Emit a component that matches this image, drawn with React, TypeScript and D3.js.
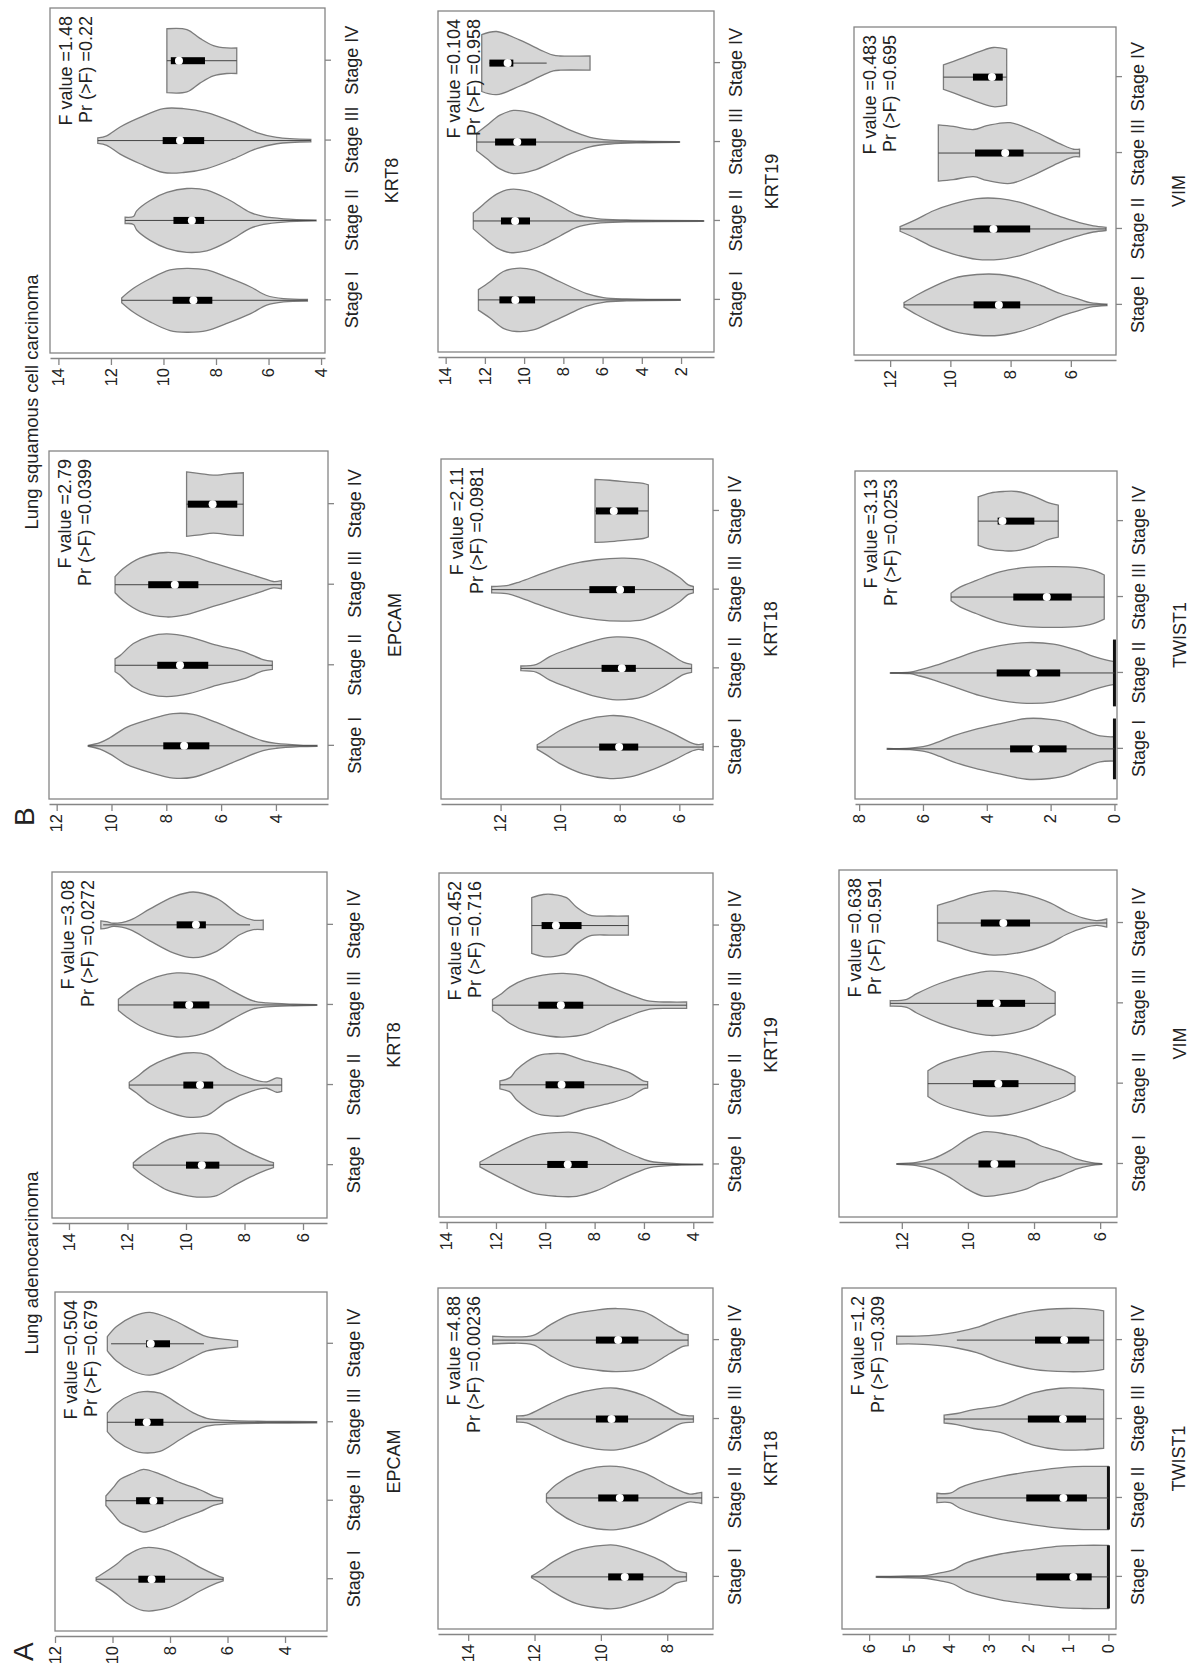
import React, { useEffect, useRef } from 'react';
import * as d3 from 'd3';

// Violin panels, drawn in landscape and then turned a quarter turn like the scan.
const W = 1191;
const H = 1665;
const FONT = '"Liberation Sans", Arial, Helvetica, sans-serif';

const stages = ['Stage I', 'Stage II', 'Stage III', 'Stage IV'];

// each violin outline: [expression value, half width in category units]
// box: [q1, median, q3], whisker: [low, high]

// ---- A: lung adenocarcinoma ----
const luadEpcamShape = [
  [[10.57, 0.02], [10.43, 0.05], [9.86, 0.19], [9.51, 0.3], [8.93, 0.4], [8.12, 0.37], [7.42, 0.25], [6.96, 0.15], [6.38, 0.05], [6.15, 0.02]],
  [[10.23, 0.06], [9.97, 0.17], [9.74, 0.27], [9.28, 0.35], [8.93, 0.4], [8.35, 0.34], [7.65, 0.23], [6.96, 0.14], [6.49, 0.06], [6.17, 0.03]],
  [[10.18, 0.12], [9.86, 0.24], [9.28, 0.36], [8.93, 0.39], [8.35, 0.37], [7.65, 0.22], [7.19, 0.12], [6.72, 0.05], [5.8, 0.02], [4.64, 0.012], [2.9, 0.008]],
  [[10.18, 0.09], [9.86, 0.22], [9.28, 0.35], [8.7, 0.4], [7.88, 0.3], [7.19, 0.17], [6.72, 0.09], [5.91, 0.05], [5.65, 0.04]],
];
const luadEpcamBox = [[8.17, 8.64, 9.1], [8.23, 8.58, 9.18], [8.23, 8.81, 9.22], [8.0, 8.67, 8.83]];
const luadEpcamWhisker = [[6.15, 10.57], [6.17, 10.23], [2.9, 10.18], [6.82, 10.05]];
const luadEpcamTicks = [4, 6, 8, 10, 12];
const luadEpcamRange = [2.54, 12.0];
const luadEpcamStats = ['F value =0.504', 'Pr (>F) =0.679'];

const luadKrt8Shape = [
  [[11.8, 0.03], [11.57, 0.1], [11.12, 0.21], [10.66, 0.31], [10.09, 0.37], [9.52, 0.4], [8.95, 0.38], [8.38, 0.26], [7.81, 0.15], [7.24, 0.06], [7.01, 0.03]],
  [[11.94, 0.035], [11.69, 0.1], [11.23, 0.23], [10.66, 0.33], [9.98, 0.4], [9.29, 0.38], [8.61, 0.21], [7.7, 0.07], [7.24, 0.04], [6.9, 0.09], [6.73, 0.08]],
  [[12.31, 0.07], [12.03, 0.15], [11.57, 0.26], [11.0, 0.35], [10.32, 0.4], [9.64, 0.38], [9.07, 0.31], [8.38, 0.17], [7.7, 0.05], [7.24, 0.025], [6.33, 0.01], [5.53, 0.005]],
  [[12.91, 0.05], [12.71, 0.04], [12.48, 0.02], [11.91, 0.06], [11.23, 0.2], [10.43, 0.35], [9.75, 0.41], [8.95, 0.33], [8.15, 0.12], [7.7, 0.06], [7.36, 0.06]],
];
const luadKrt8Box = [[8.86, 9.46, 10.0], [9.07, 9.52, 10.09], [9.2, 9.89, 10.43], [9.32, 9.66, 10.32]];
const luadKrt8Whisker = [[7.01, 11.8], [6.73, 11.94], [5.53, 12.31], [7.81, 12.83]];
const luadKrt8Ticks = [6, 8, 10, 12, 14];
const luadKrt8Range = [5.18, 14.58];
const luadKrt8Stats = ['F value =3.08', 'Pr (>F) =0.0272'];

const luadKrt18Shape = [
  [[12.09, 0.01], [11.74, 0.1], [11.44, 0.19], [10.73, 0.34], [9.93, 0.4], [9.53, 0.4], [8.72, 0.3], [8.12, 0.19], [7.72, 0.08], [7.42, 0.05]],
  [[11.64, 0.05], [11.34, 0.17], [10.73, 0.32], [10.13, 0.39], [9.53, 0.4], [8.72, 0.32], [7.92, 0.15], [7.32, 0.05], [7.11, 0.06], [6.96, 0.07]],
  [[12.54, 0.04], [12.24, 0.05], [11.54, 0.19], [10.93, 0.3], [10.13, 0.38], [9.53, 0.39], [8.72, 0.3], [8.02, 0.15], [7.62, 0.06], [7.21, 0.04]],
  [[13.26, 0.05], [12.74, 0.04], [12.04, 0.06], [11.54, 0.19], [10.93, 0.32], [10.13, 0.38], [9.53, 0.4], [8.72, 0.36], [7.92, 0.17], [7.52, 0.08], [7.37, 0.07]],
];
const luadKrt18Box = [[8.72, 9.28, 9.78], [8.87, 9.43, 10.08], [9.18, 9.68, 10.15], [8.87, 9.48, 10.15]];
const luadKrt18Whisker = [[7.42, 12.09], [6.96, 11.64], [7.21, 12.54], [7.37, 13.26]];
const luadKrt18Ticks = [8, 10, 12, 14];
const luadKrt18Range = [6.62, 14.91];
const luadKrt18Stats = ['F value =4.88', 'Pr (>F) =0.00236'];

const luadKrt19Shape = [
  [[12.65, 0.03], [12.24, 0.1], [11.43, 0.23], [10.49, 0.36], [9.54, 0.4], [8.73, 0.4], [7.92, 0.33], [7.11, 0.21], [6.3, 0.1], [5.76, 0.04], [4.67, 0.01], [3.62, 0.005]],
  [[11.84, 0.05], [11.43, 0.09], [11.16, 0.19], [10.35, 0.36], [9.81, 0.39], [9.27, 0.39], [8.46, 0.31], [7.38, 0.23], [6.57, 0.15], [6.03, 0.05], [5.85, 0.04]],
  [[12.14, 0.07], [11.84, 0.13], [11.43, 0.23], [10.76, 0.33], [9.81, 0.39], [9.27, 0.4], [8.32, 0.36], [7.38, 0.23], [6.57, 0.13], [5.76, 0.05], [4.95, 0.04], [4.27, 0.04]],
  [[10.55, 0.35], [10.08, 0.39], [9.68, 0.39], [9.14, 0.35], [8.73, 0.23], [8.19, 0.13], [7.38, 0.12], [6.63, 0.12]],
];
const luadKrt19Box = [[8.28, 9.09, 9.92], [8.42, 9.34, 9.99], [8.46, 9.37, 10.28], [8.53, 9.57, 10.15]];
const luadKrt19Whisker = [[3.62, 12.65], [5.85, 11.84], [4.27, 12.14], [6.63, 10.55]];
const luadKrt19Ticks = [4, 6, 8, 10, 12, 14];
const luadKrt19Range = [3.2, 14.31];
const luadKrt19Stats = ['F value =0.452', 'Pr (>F) =0.716'];

const luadTwistShape = [
  [[5.82, 0.005], [5.22, 0.01], [4.55, 0.02], [4.22, 0.05], [3.89, 0.09], [3.55, 0.18], [2.71, 0.29], [1.88, 0.35], [1.21, 0.39], [0.63, 0.4], [0.0, 0.4]],
  [[4.3, 0.06], [3.97, 0.06], [3.72, 0.13], [3.38, 0.19], [2.71, 0.27], [1.88, 0.34], [1.04, 0.39], [0.63, 0.4], [0.0, 0.4]],
  [[4.12, 0.05], [3.8, 0.07], [3.38, 0.12], [2.71, 0.17], [2.3, 0.25], [1.88, 0.33], [1.21, 0.39], [0.62, 0.39], [0.12, 0.37]],
  [[5.31, 0.05], [4.8, 0.05], [4.22, 0.07], [3.8, 0.1], [3.3, 0.16], [2.71, 0.27], [1.88, 0.37], [1.04, 0.4], [0.37, 0.39], [0.12, 0.37]],
];
const luadTwistBox = [[0.42, 0.88, 1.81], [0.54, 1.13, 2.06], [0.56, 1.14, 2.02], [0.48, 1.11, 1.84]];
const luadTwistWhisker = [[0, 5.82], [0, 4.3], [0.12, 4.12], [0.12, 3.8]];
const luadTwistZeroBar = [0.4, 0.4, 0, 0];
const luadTwistTicks = [0, 1, 2, 3, 4, 5, 6];
const luadTwistRange = [-0.19, 6.68];
const luadTwistStats = ['F value =1.2', 'Pr (>F) =0.309'];

const luadVimShape = [
  [[12.15, 0.005], [11.55, 0.02], [11.04, 0.07], [10.54, 0.17], [10.03, 0.31], [9.53, 0.4], [8.82, 0.37], [8.22, 0.31], [7.82, 0.23], [7.21, 0.15], [6.7, 0.06], [6.3, 0.02], [5.95, 0.005]],
  [[11.21, 0.16], [10.84, 0.25], [10.24, 0.33], [9.43, 0.4], [8.82, 0.39], [8.22, 0.33], [7.51, 0.23], [7.01, 0.15], [6.76, 0.09]],
  [[12.35, 0.035], [11.85, 0.05], [11.55, 0.12], [10.84, 0.25], [10.03, 0.35], [9.33, 0.4], [8.62, 0.37], [8.02, 0.3], [7.61, 0.2], [7.36, 0.14]],
  [[10.92, 0.22], [10.44, 0.28], [9.83, 0.36], [9.23, 0.4], [8.22, 0.35], [7.51, 0.25], [7.01, 0.14], [6.5, 0.06], [6.1, 0.03], [5.8, 0.05]],
];
const luadVimBox = [[8.57, 9.2, 9.68], [8.47, 9.08, 9.85], [8.27, 9.13, 9.73], [8.12, 8.93, 9.61]];
const luadVimWhisker = [[5.95, 12.15], [6.76, 11.21], [7.36, 12.35], [5.8, 10.92]];
const luadVimTicks = [6, 8, 10, 12];
const luadVimRange = [5.49, 13.9];
const luadVimStats = ['F value =0.638', 'Pr (>F) =0.591'];

// ---- B: lung squamous cell carcinoma ----
const luscEpcamShape = [
  [[10.85, 0.005], [10.42, 0.04], [10.06, 0.1], [9.45, 0.23], [8.6, 0.33], [7.75, 0.4], [7.02, 0.39], [6.17, 0.29], [5.32, 0.17], [4.47, 0.06], [3.98, 0.03], [3.13, 0.01], [2.5, 0.005]],
  [[9.87, 0.08], [9.69, 0.12], [9.2, 0.27], [8.6, 0.36], [7.99, 0.39], [7.14, 0.35], [6.17, 0.25], [5.19, 0.17], [4.47, 0.07], [4.13, 0.05]],
  [[9.87, 0.1], [9.57, 0.2], [8.96, 0.33], [7.99, 0.4], [7.26, 0.37], [6.29, 0.27], [5.32, 0.17], [4.47, 0.08], [4.1, 0.04], [3.8, 0.05]],
  [[7.26, 0.4], [6.77, 0.38], [6.29, 0.36], [5.68, 0.38], [5.19, 0.39]],
];
const luscEpcamBox = [[6.43, 7.35, 8.11], [6.47, 7.5, 8.33], [6.83, 7.69, 8.66], [5.41, 6.31, 7.22]];
const luscEpcamWhisker = [[2.5, 10.85], [4.13, 9.87], [3.8, 9.87], [5.19, 7.26]];
const luscEpcamTicks = [4, 6, 8, 10, 12];
const luscEpcamRange = [2.1, 12.28];
const luscEpcamStats = ['F value =2.79', 'Pr (>F) =0.0399'];

const luscKrt8Shape = [
  [[11.59, 0.03], [11.14, 0.15], [10.51, 0.27], [9.75, 0.38], [9.11, 0.4], [8.35, 0.38], [7.59, 0.29], [6.7, 0.17], [6.07, 0.06], [5.43, 0.02], [4.52, 0.01]],
  [[11.46, 0.04], [11.14, 0.05], [11.02, 0.12], [10.51, 0.25], [9.87, 0.35], [9.11, 0.4], [8.35, 0.38], [7.46, 0.25], [6.7, 0.1], [6.19, 0.05], [5.43, 0.02], [4.19, 0.005]],
  [[12.5, 0.035], [12.16, 0.06], [11.65, 0.17], [10.89, 0.29], [10.0, 0.4], [9.24, 0.4], [8.35, 0.35], [7.34, 0.23], [6.45, 0.1], [5.69, 0.04], [4.39, 0.015]],
  [[9.87, 0.4], [9.11, 0.39], [8.61, 0.28], [8.1, 0.19], [7.59, 0.16], [7.21, 0.16]],
];
const luscKrt8Box = [[8.14, 8.86, 9.65], [8.45, 8.92, 9.62], [8.45, 9.37, 10.03], [8.42, 9.41, 9.72]];
const luscKrt8Whisker = [[4.52, 11.59], [4.19, 11.46], [4.39, 12.5], [7.21, 9.87]];
const luscKrt8Ticks = [4, 6, 8, 10, 12, 14];
const luscKrt8Range = [3.85, 14.32];
const luscKrt8Stats = ['F value =1.48', 'Pr (>F) =0.22'];

const luscKrt18Shape = [
  [[10.77, 0.03], [10.46, 0.1], [10.01, 0.21], [9.23, 0.34], [8.33, 0.4], [7.66, 0.38], [6.99, 0.3], [6.2, 0.17], [5.64, 0.06], [5.36, 0.03], [5.2, 0.04]],
  [[11.32, 0.03], [10.79, 0.05], [10.35, 0.15], [9.67, 0.25], [8.78, 0.36], [8.11, 0.4], [7.21, 0.36], [6.43, 0.21], [5.87, 0.08], [5.59, 0.05]],
  [[12.3, 0.04], [11.8, 0.05], [11.35, 0.1], [10.57, 0.21], [9.67, 0.32], [8.78, 0.38], [7.88, 0.4], [7.21, 0.38], [6.54, 0.28], [5.98, 0.15], [5.7, 0.06], [5.53, 0.04]],
  [[8.83, 0.4], [8.33, 0.39], [7.77, 0.37], [7.21, 0.35], [7.04, 0.33]],
];
const luscKrt18Box = [[7.38, 8.02, 8.69], [7.46, 7.93, 8.61], [7.49, 7.99, 9.02], [7.38, 8.2, 8.8]];
const luscKrt18Whisker = [[5.2, 10.77], [5.59, 11.32], [5.53, 12.3], [7.04, 8.83]];
const luscKrt18Ticks = [6, 8, 10, 12];
const luscKrt18Range = [4.87, 14.0];
const luscKrt18Stats = ['F value =2.11', 'Pr (>F) =0.0981'];

const luscKrt19Shape = [
  [[12.33, 0.13], [11.74, 0.23], [11.06, 0.36], [10.38, 0.4], [9.53, 0.38], [8.51, 0.27], [7.66, 0.17], [6.81, 0.08], [5.96, 0.03], [4.77, 0.012], [2.04, 0.005]],
  [[12.59, 0.1], [12.08, 0.21], [11.4, 0.34], [10.72, 0.4], [9.87, 0.38], [9.02, 0.3], [8.17, 0.19], [7.32, 0.08], [6.3, 0.03], [4.77, 0.012], [0.85, 0.005]],
  [[12.42, 0.11], [11.91, 0.21], [11.23, 0.34], [10.55, 0.4], [9.53, 0.36], [8.51, 0.25], [7.66, 0.15], [6.64, 0.06], [5.62, 0.025], [3.92, 0.01], [2.08, 0.005]],
  [[12.16, 0.36], [11.4, 0.4], [10.21, 0.29], [9.02, 0.15], [8.51, 0.1], [8.17, 0.09], [6.64, 0.09]],
];
const luscKrt19Box = [[9.44, 10.45, 11.26], [9.7, 10.46, 11.18], [9.39, 10.35, 11.48], [10.55, 10.84, 11.77]];
const luscKrt19Whisker = [[2.04, 12.33], [0.85, 12.59], [2.08, 12.42], [8.85, 11.77]];
const luscKrt19Ticks = [2, 4, 6, 8, 10, 12, 14];
const luscKrt19Range = [0.32, 14.39];
const luscKrt19Stats = ['F value =0.104', 'Pr (>F) =0.958'];

const luscTwistShape = [
  [[7.12, 0.005], [6.41, 0.01], [5.89, 0.04], [5.47, 0.1], [5.05, 0.17], [4.42, 0.25], [3.59, 0.33], [2.75, 0.4], [2.02, 0.39], [1.5, 0.35], [0.97, 0.25], [0.45, 0.17], [0.0, 0.16]],
  [[7.02, 0.005], [6.41, 0.01], [6.1, 0.04], [5.68, 0.09], [5.05, 0.18], [4.21, 0.3], [3.59, 0.36], [2.75, 0.4], [1.91, 0.38], [1.18, 0.3], [0.66, 0.22], [0.24, 0.17], [0.0, 0.15]],
  [[5.12, 0.05], [4.84, 0.13], [4.32, 0.22], [3.59, 0.33], [2.75, 0.39], [1.91, 0.4], [1.18, 0.39], [0.66, 0.35], [0.32, 0.29]],
  [[4.27, 0.32], [3.9, 0.37], [3.48, 0.39], [3.06, 0.39], [2.54, 0.33], [2.12, 0.25], [1.76, 0.21]],
];
const luscTwistBox = [[1.5, 2.46, 3.27], [1.7, 2.54, 3.69], [1.34, 2.12, 3.17], [2.51, 3.51, 3.66]];
const luscTwistWhisker = [[0, 7.12], [0, 7.02], [0.32, 5.12], [1.76, 4.27]];
const luscTwistZeroBar = [0.4, 0.44, 0, 0];
const luscTwistTicks = [0, 2, 4, 6, 8];
const luscTwistRange = [-0.08, 8.13];
const luscTwistStats = ['F value =3.13', 'Pr (>F) =0.0253'];

const luscVimShape = [
  [[11.54, 0.03], [11.11, 0.13], [10.56, 0.24], [9.9, 0.35], [9.12, 0.4], [8.35, 0.4], [7.68, 0.35], [7.02, 0.26], [6.35, 0.15], [5.69, 0.07], [5.36, 0.03], [4.8, 0.01]],
  [[11.67, 0.03], [11.11, 0.13], [10.56, 0.24], [9.9, 0.33], [9.12, 0.4], [8.35, 0.4], [7.68, 0.35], [7.02, 0.26], [6.24, 0.15], [5.58, 0.07], [5.25, 0.04], [4.83, 0.02]],
  [[10.4, 0.37], [9.9, 0.35], [9.23, 0.31], [8.79, 0.36], [8.01, 0.4], [7.24, 0.29], [6.35, 0.12], [5.91, 0.05], [5.71, 0.05]],
  [[10.23, 0.16], [9.68, 0.24], [9.01, 0.34], [8.57, 0.39], [8.13, 0.37]],
];
const luscVimBox = [[7.68, 8.39, 9.23], [7.35, 8.57, 9.23], [7.57, 8.18, 9.18], [8.26, 8.62, 9.25]];
const luscVimWhisker = [[4.8, 11.54], [4.83, 11.67], [5.71, 10.4], [8.13, 10.23]];
const luscVimTicks = [6, 8, 10, 12];
const luscVimRange = [4.5, 13.2];
const luscVimStats = ['F value =0.483', 'Pr (>F) =0.695'];

// layout in the unrotated figure: [left, right, top, bottom] of each plot box, and its column
const panels = [
  { gene: 'EPCAM', shape: luadEpcamShape, box: luadEpcamBox, whisker: luadEpcamWhisker, ticks: luadEpcamTicks, range: luadEpcamRange, stats: luadEpcamStats, zero: null, frame: [34, 373, 55, 327], col: 0 },
  { gene: 'KRT8', shape: luadKrt8Shape, box: luadKrt8Box, whisker: luadKrt8Whisker, ticks: luadKrt8Ticks, range: luadKrt8Range, stats: luadKrt8Stats, zero: null, frame: [447, 793, 52, 327], col: 0 },
  { gene: 'KRT18', shape: luadKrt18Shape, box: luadKrt18Box, whisker: luadKrt18Whisker, ticks: luadKrt18Ticks, range: luadKrt18Range, stats: luadKrt18Stats, zero: null, frame: [36, 377, 438, 713], col: 1 },
  { gene: 'KRT19', shape: luadKrt19Shape, box: luadKrt19Box, whisker: luadKrt19Whisker, ticks: luadKrt19Ticks, range: luadKrt19Range, stats: luadKrt19Stats, zero: null, frame: [448, 792, 439, 713], col: 1 },
  { gene: 'TWIST1', shape: luadTwistShape, box: luadTwistBox, whisker: luadTwistWhisker, ticks: luadTwistTicks, range: luadTwistRange, stats: luadTwistStats, zero: luadTwistZeroBar, frame: [36, 377, 842, 1116], col: 2 },
  { gene: 'VIM', shape: luadVimShape, box: luadVimBox, whisker: luadVimWhisker, ticks: luadVimTicks, range: luadVimRange, stats: luadVimStats, zero: null, frame: [448, 795, 839, 1117], col: 2 },
  { gene: 'EPCAM', shape: luscEpcamShape, box: luscEpcamBox, whisker: luscEpcamWhisker, ticks: luscEpcamTicks, range: luscEpcamRange, stats: luscEpcamStats, zero: null, frame: [866, 1214, 49, 328], col: 0 },
  { gene: 'KRT8', shape: luscKrt8Shape, box: luscKrt8Box, whisker: luscKrt8Whisker, ticks: luscKrt8Ticks, range: luscKrt8Range, stats: luscKrt8Stats, zero: null, frame: [1312, 1657, 50, 325], col: 0 },
  { gene: 'KRT18', shape: luscKrt18Shape, box: luscKrt18Box, whisker: luscKrt18Whisker, ticks: luscKrt18Ticks, range: luscKrt18Range, stats: luscKrt18Stats, zero: null, frame: [866, 1206, 441, 713], col: 1 },
  { gene: 'KRT19', shape: luscKrt19Shape, box: luscKrt19Box, whisker: luscKrt19Whisker, ticks: luscKrt19Ticks, range: luscKrt19Range, stats: luscKrt19Stats, zero: null, frame: [1313, 1654, 438, 714], col: 1 },
  { gene: 'TWIST1', shape: luscTwistShape, box: luscTwistBox, whisker: luscTwistWhisker, ticks: luscTwistTicks, range: luscTwistRange, stats: luscTwistStats, zero: luscTwistZeroBar, frame: [866, 1194, 855, 1117], col: 2 },
  { gene: 'VIM', shape: luscVimShape, box: luscVimBox, whisker: luscVimWhisker, ticks: luscVimTicks, range: luscVimRange, stats: luscVimStats, zero: null, frame: [1310, 1638, 854, 1116], col: 2 },
];

// distance of stage labels / gene name below each plot box, per column
const labelGap = [
  { stage: 27, gene: 67 },
  { stage: 22, gene: 58 },
  { stage: 22, gene: 63 },
];

const App = () => {
  const svgRef = useRef<SVGSVGElement>(null);

  useEffect(() => {
    const svg = d3.select(svgRef.current);
    svg.selectAll('*').remove();

    svg.append('rect').attr('width', W).attr('height', H).attr('fill', '#fff');

    // the printed page is turned 90 degrees
    const root = svg.append('g')
      .attr('transform', `translate(0,${H}) rotate(-90)`)
      .style('font-family', FONT)
      .attr('fill', '#222');

    // 1. panel letters and cohort titles
    root.append('text').attr('x', 4).attr('y', 33).attr('font-size', 28).text('A');
    root.append('text').attr('x', 839).attr('y', 34).attr('font-size', 28).text('B');
    root.append('text').attr('x', 402).attr('y', 38).attr('font-size', 18.5)
      .attr('text-anchor', 'middle').text('Lung adenocarcinoma');
    root.append('text').attr('x', 1263).attr('y', 38).attr('font-size', 18.5)
      .attr('text-anchor', 'middle').text('Lung squamous cell carcinoma');

    // 2. every violin panel
    panels.forEach(p => {
      const [left, right, top, bottom] = p.frame;
      const gap = labelGap[p.col];

      const xScale = d3.scaleLinear().domain([0.34, 4.66]).range([left, right]);
      const yScale = d3.scaleLinear().domain(p.range).range([bottom, top]);
      const unit = xScale(1) - xScale(0);

      const g = root.append('g');

      p.shape.forEach((pts, i) => {
        const cx = xScale(i + 1);
        const violin = d3.area<number[]>()
          .y(d => yScale(d[0]))
          .x0(d => cx - d[1] * unit)
          .x1(d => cx + d[1] * unit)
          .curve(d3.curveCatmullRom.alpha(0.5));

        g.append('path')
          .attr('d', violin(pts))
          .attr('fill', '#d6d6d6')
          .attr('stroke', '#7c7c7c')
          .attr('stroke-width', 1.3);

        if (p.zero && p.zero[i] > 0) {
          g.append('line')
            .attr('x1', cx - p.zero[i] * unit).attr('x2', cx + p.zero[i] * unit)
            .attr('y1', yScale(0)).attr('y2', yScale(0))
            .attr('stroke', '#111').attr('stroke-width', 3);
        }

        const [lo, hi] = p.whisker[i];
        g.append('line')
          .attr('x1', cx).attr('x2', cx)
          .attr('y1', yScale(lo)).attr('y2', yScale(hi))
          .attr('stroke', '#444').attr('stroke-width', 1);

        const [q1, med, q3] = p.box[i];
        g.append('rect')
          .attr('x', cx - 3.5).attr('width', 7)
          .attr('y', yScale(q3)).attr('height', yScale(q1) - yScale(q3))
          .attr('fill', '#000');
        g.append('circle')
          .attr('cx', cx).attr('cy', yScale(med)).attr('r', 4)
          .attr('fill', '#fff');
      });

      // plot frame
      g.append('rect')
        .attr('x', left).attr('y', top)
        .attr('width', right - left).attr('height', bottom - top)
        .attr('fill', 'none').attr('stroke', '#858585').attr('stroke-width', 1.3);

      // 3. value axis, set a little away from the frame
      const yAxis = d3.axisLeft(yScale).tickValues(p.ticks).tickFormat(d3.format('d'))
        .tickSize(6).tickSizeOuter(0).tickPadding(3);
      const ya = g.append('g').attr('transform', `translate(${left - 6},0)`).call(yAxis);
      ya.select('.domain').attr('stroke', '#858585').attr('stroke-width', 1.3);
      ya.selectAll('.tick line').attr('stroke', '#858585').attr('stroke-width', 1.3);
      ya.selectAll('.tick text')
        .attr('font-size', 16.5).attr('font-family', FONT).attr('fill', '#222');

      // 4. stage axis
      const xAxis = d3.axisBottom(xScale).tickValues([1, 2, 3, 4])
        .tickFormat(d => stages[(d as number) - 1]).tickSize(6).tickSizeOuter(0);
      const xa = g.append('g').attr('transform', `translate(0,${bottom})`).call(xAxis);
      xa.select('.domain').remove();
      xa.selectAll('.tick line').attr('stroke', '#858585').attr('stroke-width', 1.3);
      xa.selectAll('.tick text')
        .attr('y', gap.stage).attr('dy', '0.35em')
        .attr('font-size', 18).attr('font-family', FONT).attr('fill', '#222');

      g.append('text')
        .attr('x', (left + right) / 2).attr('y', bottom + gap.gene).attr('dy', '0.35em')
        .attr('text-anchor', 'middle').attr('font-size', 18).text(p.gene);

      // 5. ANOVA result in the top-right corner
      p.stats.forEach((s, k) => {
        g.append('text')
          .attr('x', right - 8).attr('y', top + 22 + k * 20)
          .attr('text-anchor', 'end').attr('font-size', 18).text(s);
      });
    });
  }, []);

  return (
    <div style={{ position: 'absolute', left: 0, top: 0 }}>
      <svg ref={svgRef} width={W} height={H} style={{ display: 'block' }}></svg>
    </div>
  );
};

export default App;
